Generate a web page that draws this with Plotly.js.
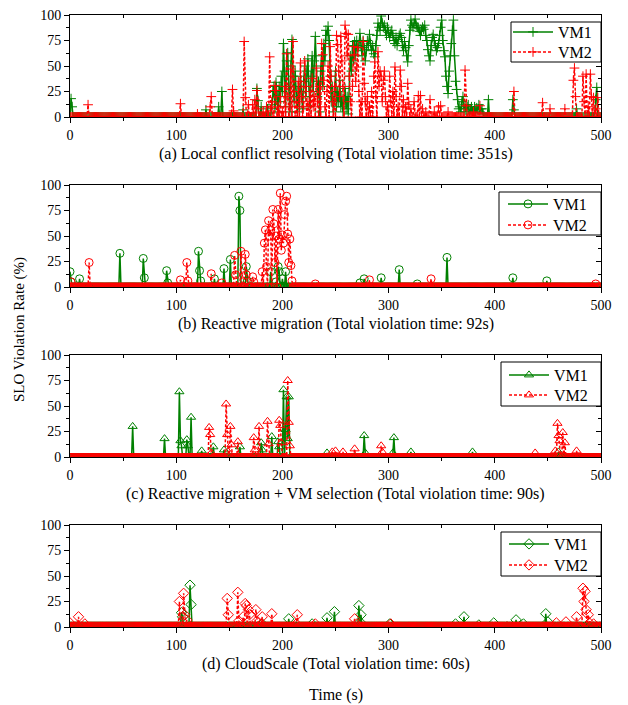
<!DOCTYPE html>
<html><head><meta charset="utf-8">
<script src="https://cdn.plot.ly/plotly-3.0.1.min.js"></script>
<style>html,body{margin:0;padding:0;background:#fff;}#chart{width:628px;height:705px;}</style>
</head><body><div id="chart"></div>
<script>
// ---------- DATA (time in s, SLO violation rate in %) ----------
const seriesNames = ['VM1', 'VM2'];
const captions = [
  '(a) Local conflict resolving (Total violation time: 351s)',
  '(b) Reactive migration (Total violation time: 92s)',
  '(c) Reactive migration + VM selection (Total violation time: 90s)',
  '(d) CloudScale (Total violation time: 60s)'
];

// (a) Local conflict resolving
const aVM1t = [1, 2, 128, 140, 143, 163, 176, 177, 180, 186, 394, 417, 418, 477, 495, 496];
const aVM1v = [18, 10, 7, 10, 25, 7, 28, 16, 10, 8, 17, 17, 7, 8, 17, 29];
const aVM1DenseStart = 190;
const aVM1Dense = [
  12,25,30,8,34,20,5,30,15,40,
  25,72,45,10,55,63,30,5,50,76,
  40,15,45,20,5,30,10,40,25,8,
  35,50,20,45,57,30,10,40,60,25,
  55,79,50,20,35,5,45,60,30,72,
  55,85,80,89,75,40,15,30,5,20,
  45,10,25,15,36,10,20,5,15,28,
  8,20,3,40,60,45,70,55,74,60,
  75,65,70,82,70,60,75,68,55,66,
  75,70,81,72,65,70,62,59,70,80,
  92,88,85,99,92,88,90,85,80,88,
  83,78,82,85,80,75,72,78,70,76,
  80,82,78,70,65,74,68,60,54,70,
  85,95,90,88,92,96,90,88,87,84,
  80,85,88,86,90,80,75,66,60,55,
  70,78,81,75,70,65,68,72,80,88,
  95,75,65,59,40,30,23,45,60,72,
  85,95,60,35,27,17,8,10,5,15,
  20,8,12,5,10,12,3,8,10,5,
  6,10,4,9,7,12,5,8,8,3
];
const aVM2t = [17,104,120,132,133,153,154,164,165,168,172,174,176,177,182,185,188,189,190,193,194,196,198,200,202,204,205,207,208,210,211,213,215,217,218,220,221,222,224,226,228,229,230,232,233,235,237,238,239,240,242,243,245,246,247,249,251,252,253,254,255,256,257,259,260,261,262,263,264,266,267,268,269,270,271,272,274,276,277,278,280,282,284,286,287,288,290,291,292,293,294,295,296,297,299,301,302,304,306,307,309,311,312,314,316,318,319,321,324,328,330,332,335,339,343,347,349,356,372,373,380,386,418,445,452,466,474,475,476,483,484,486,488,490,491,493,495,497];
const aVM2v = [12,13,3,10,20,27,6,74,19,12,12,17,26,8,5,10,59,6,15,31,26,10,20,5,30,62,20,10,47,74,25,15,35,53,20,10,55,30,15,25,38,10,20,48,15,30,72,61,36,10,25,50,69,40,15,30,80,71,45,20,79,55,30,90,82,60,81,40,15,30,69,61,35,49,68,25,15,74,33,15,20,10,25,40,54,20,64,30,45,40,15,36,45,20,10,40,15,25,49,20,10,46,30,17,10,33,12,8,15,21,21,8,5,17,5,10,11,5,46,11,5,11,25,14,8,8,36,48,20,40,15,42,10,42,20,19,8,19];

// (b) Reactive migration
const bVM1t = [0,1,9,47,69,70,91,92,121,122,123,136,145,151,159,160,166,167,189,194,196,197,200,203,273,277,293,310,327,355,417,449];
const bVM1v = [15,5,8,33,28,9,16,4,35,16,6,8,18,27,89,75,20,6,15,5,20,15,8,15,4,8,9,17,3,29,9,6];
const bVM2t = [1,18,104,110,111,133,143,155,156,161,165,166,172,173,181,183,184,185,187,188,189,191,192,193,194,196,197,198,199,200,201,202,203,204,205,206,207,208,209,231,282,340,495];
const bVM2v = [5,24,7,24,6,13,4,31,12,35,32,12,10,5,15,43,56,20,65,50,56,76,62,24,50,76,47,92,36,51,43,71,84,89,52,24,47,21,6,3,7,8,3];

// (c) Reactive migration + VM selection
const cVM1t = [59,89,103,104,105,110,111,114,124,135,145,160,180,181,190,196,197,201,203,204,205,206,242,277,278,304,305,321,379,460];
const cVM1v = [30,18,64,16,11,17,11,39,6,10,7,10,14,7,20,15,10,66,27,59,18,59,4,21,4,4,19,5,5,5];
const cVM2t = [131,132,133,147,148,149,151,152,158,173,174,178,186,187,197,198,199,205,206,207,247,250,257,268,293,294,438,457,459,460,461,464,466,477];
const cVM2v = [29,22,4,52,22,5,30,12,15,19,7,30,35,13,36,31,14,75,34,11,5,6,5,8,11,5,4,6,33,21,16,24,14,6];

// (d) CloudScale
const dVM1t = [105,106,113,114,181,206,228,242,249,272,273,274,301,363,371,385,399,420,427,448,450];
const dVM1v = [14,10,41,22,3,8,3,9,15,21,5,12,3,3,10,2,4,7,3,13,5];
const dVM2t = [0,8,14,103,107,108,110,148,149,158,159,163,165,166,168,169,175,176,180,181,190,213,214,231,268,270,302,458,467,477,483,484,485,486,488,489,493];
const dVM2v = [4,10,3,25,33,12,7,28,12,34,6,10,23,21,17,12,17,6,3,10,13,3,12,3,8,3,3,4,5,10,38,25,35,17,12,4,3];

// ---------- BUILD ----------
const T_END = 500;
const xs = Array.from({length: T_END + 1}, (_, i) => i);
function fullSeries(tArr, vArr, denseStart, dense) {
  const y = new Array(T_END + 1).fill(0);
  tArr.forEach((t, i) => { y[t] = vArr[i]; });
  if (dense) dense.forEach((v, i) => { y[denseStart + i] = v; });
  return y;
}
const panels = [
  {vm1: fullSeries(aVM1t, aVM1v, aVM1DenseStart, aVM1Dense), vm2: fullSeries(aVM2t, aVM2v), sym: 'cross-thin-open', size: 7},
  {vm1: fullSeries(bVM1t, bVM1v), vm2: fullSeries(bVM2t, bVM2v), sym: 'circle-open', size: 8},
  {vm1: fullSeries(cVM1t, cVM1v), vm2: fullSeries(cVM2t, cVM2v), sym: 'triangle-up-open', size: 8},
  {vm1: fullSeries(dVM1t, dVM1v), vm2: fullSeries(dVM2t, dVM2v), sym: 'diamond-open', size: 8}
];

const FONT = 'Liberation Serif, Times New Roman, serif';
const GREEN = '#008000', RED = '#ff0000';
// page geometry (px): plot area left 70, right 601, top 15, bottom 627
const L = 70, R = 601, TOP = 15, BOT = 627;
const px2x = p => (p - L) / (R - L);
const px2y = p => (BOT - p) / (BOT - TOP);
const domains = [[px2y(117), 1], [px2y(287), px2y(185)], [px2y(457), px2y(355)], [px2y(627), px2y(525)]];
// legend boxes [left, top, right, bottom] and row centres, sample start
const legBoxes = [[511, 22, 601, 62], [499, 192, 601, 235], [501, 362, 601, 406], [501, 532, 601, 576]];
const legRows = [[32, 52], [204, 225], [375, 395], [544, 565]];
const legLeft = [508, 503, 504, 504];

const traces = [];
const layout = {
  width: 628, height: 705,
  margin: {l: 70, r: 27, t: 15, b: 78},
  paper_bgcolor: '#fff', plot_bgcolor: '#fff',
  font: {family: FONT, color: '#000', size: 14},
  annotations: [], shapes: [],
  showlegend: true
};

panels.forEach((p, k) => {
  const n = k + 1;
  const xa = 'x' + (n === 1 ? '' : n), ya = 'y' + (n === 1 ? '' : n);
  const xo = 'x' + (n + 4), yo = 'y' + (n + 4);
  const legA = 'legend' + (2 * k + 1 === 1 ? '' : 2 * k + 1);
  const legB = 'legend' + (2 * k + 2);
  traces.push({
    x: xs, y: p.vm1, xaxis: xa, yaxis: ya, name: seriesNames[0], legend: legA,
    type: 'scatter', mode: 'lines+markers',
    line: {color: GREEN, width: 1.5},
    marker: {symbol: p.sym, size: p.size, color: GREEN, line: {color: GREEN, width: 1}},
    hoverinfo: 'skip'
  });
  traces.push({
    x: xs, y: p.vm2, xaxis: xa, yaxis: ya, name: seriesNames[1], legend: legB,
    type: 'scatter', mode: 'lines+markers',
    line: {color: RED, width: 1.5, dash: '3px,2px'},
    marker: {symbol: p.sym, size: p.size, color: RED, line: {color: RED, width: 1}},
    hoverinfo: 'skip'
  });
  traces.push({x: [null], y: [null], xaxis: xo, yaxis: yo, showlegend: false, hoverinfo: 'skip', mode: 'markers'});

  const xKey = 'xaxis' + (n === 1 ? '' : n), yKey = 'yaxis' + (n === 1 ? '' : n);
  layout[xKey] = {
    anchor: ya, domain: [0, 1], range: [0, T_END], tick0: 0, dtick: 100,
    ticks: 'outside', ticklen: 5, tickwidth: 1, tickcolor: '#000',
    showline: true, linecolor: '#000', linewidth: 1, showgrid: false, zeroline: false,
    tickfont: {family: FONT, size: 14, color: '#000'},
    minor: {tick0: 0, dtick: 50, ticks: 'outside', ticklen: 3, tickcolor: '#000', showgrid: false}
  };
  layout[yKey] = {
    anchor: xa, domain: domains[k], range: [0, 100], tick0: 0, dtick: 25,
    ticks: 'outside', ticklen: 5, tickwidth: 1, tickcolor: '#000',
    showline: true, linecolor: '#000', linewidth: 1, showgrid: false, zeroline: false,
    tickfont: {family: FONT, size: 14, color: '#000'},
    minor: {tick0: 0, dtick: 12.5, ticks: 'outside', ticklen: 3, tickcolor: '#000', showgrid: false}
  };
  layout['xaxis' + (n + 4)] = {
    overlaying: xa, anchor: yo, side: 'top', range: [0, T_END], tick0: 0, dtick: 100,
    ticks: 'inside', ticklen: 5, tickcolor: '#000', showticklabels: false,
    showline: true, linecolor: '#000', linewidth: 1, showgrid: false, zeroline: false,
    minor: {tick0: 0, dtick: 50, ticks: 'inside', ticklen: 3, tickcolor: '#000', showgrid: false}
  };
  layout['yaxis' + (n + 4)] = {
    overlaying: ya, anchor: xo, side: 'right', range: [0, 100], tick0: 0, dtick: 25,
    ticks: 'inside', ticklen: 5, tickcolor: '#000', showticklabels: false,
    showline: true, linecolor: '#000', linewidth: 1, showgrid: false, zeroline: false,
    minor: {tick0: 0, dtick: 12.5, ticks: 'inside', ticklen: 3, tickcolor: '#000', showgrid: false}
  };
  const b = legBoxes[k];
  layout.shapes.push({
    type: 'rect', xref: 'paper', yref: 'paper', layer: 'above',
    x0: px2x(b[0]), x1: px2x(b[2]), y0: px2y(b[3]), y1: px2y(b[1]),
    fillcolor: '#fff', line: {color: '#000', width: 1}
  });
  [legA, legB].forEach((lg, j) => {
    layout[lg] = {
      x: px2x(legLeft[k]), xanchor: 'left', y: px2y(legRows[k][j]), yanchor: 'middle',
      bgcolor: 'rgba(0,0,0,0)', borderwidth: 0,
      font: {family: FONT, size: 16, color: '#000'},
      itemwidth: 40
    };
  });
  layout.annotations.push({
    text: captions[k], xref: 'paper', yref: 'paper', x: 0.5, y: domains[k][0],
    xanchor: 'center', yanchor: 'top', yshift: -26, showarrow: false,
    font: {family: FONT, size: 16, color: '#000'}
  });
});

layout.annotations.push({
  text: 'SLO Violation Rate (%)', xref: 'paper', yref: 'paper', x: px2x(20), y: px2y(330),
  xanchor: 'center', yanchor: 'middle', textangle: -90, showarrow: false,
  font: {family: FONT, size: 15, color: '#000'}
});
layout.annotations.push({
  text: 'Time (s)', xref: 'paper', yref: 'paper', x: 0.5, y: px2y(695),
  xanchor: 'center', yanchor: 'middle', showarrow: false,
  font: {family: FONT, size: 16, color: '#000'}
});

Plotly.newPlot('chart', traces, layout, {staticPlot: true, displayModeBar: false});
</script>
</body></html>
